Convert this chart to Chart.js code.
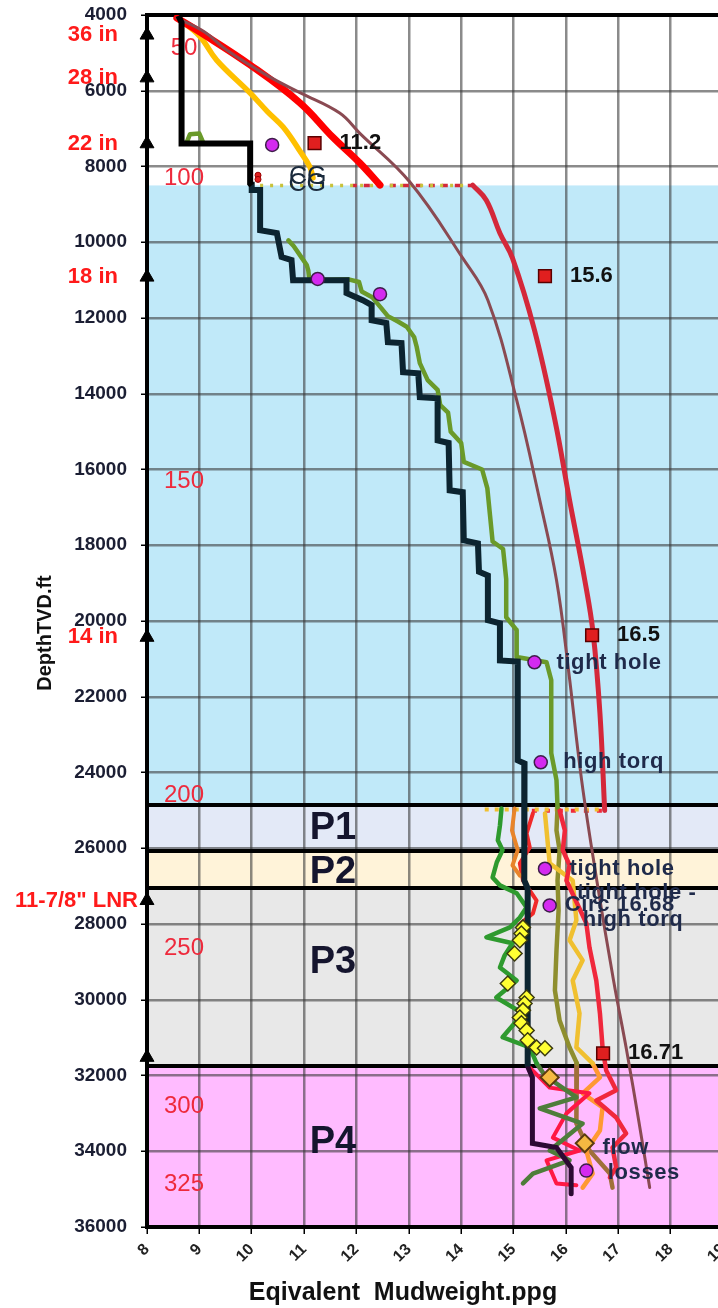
<!DOCTYPE html>
<html>
<head>
<meta charset="utf-8">
<script src="https://cdn.jsdelivr.net/npm/chart.js@4.4.1/dist/chart.umd.min.js"></script>
<style>
  html, body { margin: 0; padding: 0; background: #fff; overflow: hidden; }
  #wrap { width: 740px; height: 1308px; position: relative; }
</style>
</head>
<body>
<div id="wrap"><canvas id="c" width="740" height="1308"></canvas></div>
<script>
// ---- axis ranges / ticks ----
const xTicks = { min: 8, max: 19, step: 1 };
const yTicks = { min: 4000, max: 36000, step: 2000 };

// ---- casing shoes (depth ft) ----
const casingDepth = [4530, 5660, 7400, 10920, 20430, 27380, 31520];
const casingSize  = ['36 in', '28 in', '22 in', '18 in', '14 in', '11-7/8" LNR', ''];

// ---- formation temperature marks ----
const tempDepth = [4870, 8305, 16310, 24600, 28640, 32820, 34880];
const tempValue = ['50', '100', '150', '200', '250', '300', '325'];

// ---- depth intervals ----
const bandTop       = [8500, 24870, 26080, 27060, 31760];
const bandBottom    = [24870, 26080, 27060, 31760, 36000];
const bandName      = ['', 'P1', 'P2', 'P3', 'P4'];
const bandNameDepth = [null, 25474, 26636, 29013, 33768];

// ---- mud weight used (ppg, depth ft) ----
const mudShallow = [[8.6,4020],[8.66,4200],[8.66,7390],[9.97,7390],[9.97,8450],[10.0,8500]];
const mudDeep = [[10.0,8400],[10.0,8620],[10.16,8620],[10.16,9680],[10.48,9760],[10.57,10390],[10.76,10470],
  [10.79,11000],[11.81,11000],[11.81,11340],[12.12,11530],[12.29,11660],[12.29,12060],[12.57,12130],
  [12.6,12640],[12.86,12660],[12.89,13430],[13.18,13460],[13.21,14090],[13.55,14120],[13.55,15230],
  [13.76,15300],[13.78,16550],[14.03,16600],[14.05,17870],[14.32,17950],[14.34,18700],[14.51,18800],
  [14.51,19980],[14.74,20060],[14.74,21040],[15.08,21070],[15.08,23680],[15.21,23760],[15.21,26400],
  [15.2,26850],[15.27,27060],[15.27,31760]];
const mudP4 = [[15.27,31760],[15.36,32050],[15.36,33790],[15.82,33900],[16.1,34430],[16.1,35120]];

// ---- equivalent circulating density ----
const ecdPeek = [[8.75,7390],[8.82,7150],[9.0,7130],[9.08,7390]];
const ecd = [[10.7,9950],[10.8,10100],[10.95,10400],[11.05,10600],[11.08,10740],[11.1,11000],[11.85,10980],
  [12.05,11050],[12.1,11300],[12.3,11450],[12.45,11700],[12.6,11950],[12.8,12100],[12.96,12230],[13.1,12500],
  [13.15,12760],[13.21,13190],[13.36,13640],[13.55,13900],[13.6,14300],[13.75,14500],[13.8,15000],[14.0,15300],
  [14.05,15800],[14.4,16000],[14.5,16500],[14.55,17200],[14.6,17900],[14.8,18100],[14.86,18900],[14.86,19900],
  [15.06,20240],[15.06,20950],[15.63,21090],[15.72,21560],[15.72,23490],[15.82,24200],[15.84,24920]];

// ---- overburden, fracture and collapse gradients ----
const overburden = [[8.57,4080],[9.1,4450],[9.52,4925],[10.3,5600],[10.92,6050],[11.68,6590],[12.06,7117],
  [13.02,8410],[14.03,10420],[14.51,11530],[15.06,14170],[15.5,16810],[15.82,18920],[16.05,21300],
  [16.3,24200],[16.59,26850],[16.91,29490],[17.16,31340],[17.39,33190],[17.6,34960]];
const fracShallow = [[8.57,4080],[9.01,4450],[9.97,5320],[10.92,6320],[11.55,7230],[12.06,7900],[12.45,8490]];
const fracDeep = [[14.22,8490],[14.48,8890],[14.74,9760],[14.98,10420],[15.4,12320],[15.79,14700],[16.07,16810],
  [16.36,18920],[16.52,20320],[16.65,22440],[16.74,25000]];
const collapse = [[8.6,4100],[9.0,4550],[9.33,5190],[9.97,6060],[10.3,6550],[10.6,6960],[10.9,7550],[11.11,8010],[11.17,8300]];
const collapseShoe = [[10.16,8500],[14.16,8500]];
const fracShoe = [[11.93,8500],[14.22,8500]];
const collapseShoe2 = [[14.45,24980],[16.75,24980]];
const fracShoe2 = [[15.35,25010],[16.8,25010]];

// ---- offset well traces through P1-P4 ----
const wellGreen = [[14.77,24950],[14.74,25400],[14.70,25790],[14.79,26050],[14.68,26370],[14.60,26770],[14.74,26980],
  [15.06,27190],[15.25,27560],[15.12,27830],[14.93,28090],[14.48,28350],[14.98,28510],[14.83,28830],[14.74,29150],
  [15.06,29490],[14.67,29940],[15.18,30360],[14.79,30990],[15.31,31260],[15.44,31680]];
const wellGreenP4 = [[15.44,31680],[15.60,32000],[16.20,32580],[15.50,32870],[16.32,33270],[15.69,33980],
  [16.07,34240],[15.37,34590],[15.18,34850]];
const wellOrange = [[15.02,24950],[14.97,25530],[15.08,26050],[14.98,26450],[15.12,26720]];
const wellRedLeft = [[15.37,25080],[15.25,25610],[15.31,25980],[15.12,26400],[15.18,26850],[15.44,27380],
  [15.37,27720],[15.12,28000]];
const wellRedRight = [[15.88,25000],[15.98,25530],[15.94,26050],[16.07,26450],[16.01,26850],[16.39,27980],
  [16.45,28620],[16.58,29490],[16.65,30360],[16.70,31260],[16.77,31870],[16.96,32390],[16.58,32660],
  [16.96,33110],[17.15,33530],[16.89,33900],[16.96,34430],[16.84,34690]];
const wellGold = [[15.60,25080],[15.69,26400],[16.13,26850],[16.20,27900],[16.07,28430],[16.32,28960],
  [16.13,29490],[16.26,30360],[16.20,31260],[16.51,31680]];
const wellOrangeP4 = [[16.51,31680],[16.65,32050],[16.32,32470],[16.70,32840],[16.65,33450],[16.39,33980],
  [16.51,34590],[16.32,34960]];
const wellKhaki = [[15.84,24920],[15.82,25530],[15.88,26050],[15.84,26850],[15.86,27640],[15.82,28700],
  [15.79,29750],[15.88,30550],[16.07,31260],[16.21,31680]];
const wellBrownP4 = [[16.21,31680],[16.20,31950],[16.20,33270],[16.45,33980],[16.84,34590],[16.89,34960]];
const wellRedP4 = [[15.31,31790],[15.69,32320],[16.45,32470],[16.01,33000],[15.75,33640],[16.26,33980],
  [15.63,34240],[15.82,34850],[16.20,34900]];

// ---- point data ----
const mwPlan = [[11.2,7380],[15.6,10894],[16.5,20376],[16.71,31417]];
const events = [[10.39,7430],[11.26,10970],[12.45,11370],[15.4,21090],[15.52,23730],[15.6,26540],[15.69,27510],[16.39,34510]];
const connGas = [[15.18,28090],[15.15,28250],[15.12,28430],[15.02,28780],[14.89,29570],[15.25,29940],[15.21,30100],
  [15.18,30280],[15.12,30470],[15.15,30620],[15.25,30810],[15.27,31070],[15.44,31260],[15.6,31280]];
const flowEvents = [[15.69,32050],[16.36,33790]];
const shoeTest = [[10.12,8230],[10.12,8340]];

// ---- text notes (text, ppg, depth) ----
const notes = [
  ['tight hole', 15.82, 21115], ['high torq', 15.95, 23730], ['tight hole', 16.07, 26557],
  ['tight hole -', 16.21, 27190], ['Circ 16.68', 15.98, 27507], ['high torq', 16.32, 27904],
  ['flow', 16.70, 33900], ['losses', 16.80, 34560]
];
const curveNotes = [['CG', 10.71, 8280], ['CG', 10.70, 8465]];

// ---------------------------------------------------------------
const FONT = '"Liberation Sans", Arial, Helvetica, sans-serif';
const GRID = 'rgba(55,55,55,0.58)';
const pts = a => a.map(([x, y]) => ({ x, y }));

function trace(data, color, width, order, extra) {
  return Object.assign({
    data: pts(data), showLine: true, borderColor: color, backgroundColor: color,
    borderWidth: width, pointRadius: 0, pointHoverRadius: 0, tension: 0, order,
    borderJoinStyle: 'round', borderCapStyle: 'round'
  }, extra || {});
}
function marks(data, style, radius, fill, edge, edgeW, order, extra) {
  return Object.assign({
    data: pts(data), showLine: false, pointStyle: style, pointRadius: radius,
    pointHoverRadius: radius, backgroundColor: fill, borderColor: edge,
    pointBorderWidth: edgeW, borderWidth: edgeW, order
  }, extra || {});
}

const datasets = [
  trace(overburden, '#8a4a52', 3, 40, { tension: 0.4 }),
  trace(collapse, '#ffc000', 5.5, 42, { tension: 0.4 }),
  trace(fracShallow, '#ff0000', 7, 41, { tension: 0.4 }),
  trace(fracDeep, '#d4283a', 5, 41, { tension: 0.4 }),
  trace(collapseShoe, '#c8c23c', 3.5, 43, { borderDash: [3, 7], borderCapStyle: 'butt' }),
  trace(fracShoe, '#d4283a', 3.5, 43, { borderDash: [6, 7], borderDashOffset: 2, borderCapStyle: 'butt' }),
  trace(collapseShoe2, '#f0c030', 4, 43, { borderDash: [4, 6], borderCapStyle: 'butt' }),
  trace(fracShoe2, '#f02a3a', 4, 43, { borderDash: [5, 8], borderCapStyle: 'butt' }),

  trace(wellGreen, '#2e9a2e', 4.5, 30),
  trace(wellGreenP4, '#4e7d3a', 4.5, 30),
  trace(wellOrange, '#e8842a', 4, 31),
  trace(wellRedLeft, '#f02a2a', 4, 31),
  trace(wellRedRight, '#f0283c', 4.5, 31),
  trace(wellGold, '#f0c030', 4.5, 32),
  trace(wellOrangeP4, '#ff9933', 4.5, 32),
  trace(wellKhaki, '#8e8e2e', 4.5, 33),
  trace(wellBrownP4, '#a0703a', 4.5, 33),
  trace(wellRedP4, '#ff1744', 4, 31),

  trace(ecdPeek, '#6a9a2a', 4.5, 21),
  trace(ecd, '#6a9a2a', 4.5, 21),
  trace(mudShallow, '#000000', 6, 20, { borderJoinStyle: 'miter', borderCapStyle: 'butt' }),
  trace(mudDeep, '#0c2430', 6, 20, { borderJoinStyle: 'miter', borderCapStyle: 'butt' }),
  trace(mudP4, '#2d0a33', 5, 20, { borderJoinStyle: 'miter' }),

  marks(casingDepth.map(d => [xTicks.min, d]), 'triangle', 8, '#000', '#000', 1, 5, { clip: false }),
  marks(shoeTest, 'circle', 3, '#e02020', '#900', 1, 4),
  marks(connGas, 'rectRot', 7.5, '#ffff33', '#3a3a10', 1.5, 3),
  marks(flowEvents, 'rectRot', 9, '#f5b942', '#5a3a10', 2, 3),
  marks(events, 'circle', 6.5, '#d42af0', '#3e1e4a', 1.5, 2),
  marks(mwPlan, 'rect', 9, '#e01f1f', '#5a0000', 1.5, 1)
];

const bandColors = ['#c0e9f9', '#e3e9f7', '#fff3d9', '#e8e8e8', '#ffbbff'];

const overlay = {
  id: 'overlay',
  beforeDraw(chart) {
    const { ctx, chartArea: a, scales: { y } } = chart;
    ctx.save();
    ctx.fillStyle = '#fff';
    ctx.fillRect(0, 0, chart.width, chart.height);
    bandTop.forEach((t, i) => {
      const y0 = y.getPixelForValue(t), y1 = y.getPixelForValue(bandBottom[i]);
      ctx.fillStyle = bandColors[i];
      ctx.fillRect(a.left, y0, a.right - a.left, y1 - y0);
    });
    ctx.restore();
  },
  beforeDatasetsDraw(chart) {
    const { ctx, chartArea: a, scales: { x, y } } = chart;
    ctx.save();
    // interval boundaries
    ctx.strokeStyle = '#000';
    ctx.lineWidth = 4;
    bandTop.slice(1).forEach(t => {
      const py = Math.round(y.getPixelForValue(t));
      ctx.beginPath(); ctx.moveTo(a.left, py); ctx.lineTo(a.right, py); ctx.stroke();
    });
    ctx.beginPath(); ctx.moveTo(a.left - 2, a.top); ctx.lineTo(a.right, a.top); ctx.stroke();
    // interval names
    ctx.fillStyle = '#15152e';
    ctx.font = 'bold 38px ' + FONT;
    ctx.textAlign = 'center'; ctx.textBaseline = 'middle';
    bandName.forEach((n, i) => {
      if (!n) return;
      ctx.fillText(n, x.getPixelForValue(11.55), y.getPixelForValue(bandNameDepth[i]));
    });
    // temperatures
    ctx.font = '24px ' + FONT;
    ctx.fillStyle = '#ee2a3c';
    tempValue.forEach((t, i) => {
      ctx.fillText(t, a.left + 37, y.getPixelForValue(tempDepth[i]));
    });
    ctx.restore();
  },
  afterDatasetsDraw(chart) {
    const { ctx, scales: { x, y } } = chart;
    ctx.save();
    ctx.textBaseline = 'middle'; ctx.textAlign = 'left';
    // planned mud weights at casing points
    ctx.font = 'bold 22px ' + FONT;
    ctx.fillStyle = '#111';
    mwPlan.forEach(([v, d]) => {
      ctx.fillText(String(v), x.getPixelForValue(v) + 25, y.getPixelForValue(d));
    });
    // drilling notes
    ctx.fillStyle = '#1f2a4a';
    ctx.font = 'bold 22px ' + FONT;
    if ('letterSpacing' in ctx) ctx.letterSpacing = '0.6px';
    notes.forEach(([t, v, d]) => ctx.fillText(t, x.getPixelForValue(v), y.getPixelForValue(d)));
    if ('letterSpacing' in ctx) ctx.letterSpacing = '0px';
    ctx.font = '25px ' + FONT;
    ctx.fillStyle = '#1a2a3c';
    curveNotes.forEach(([t, v, d]) => ctx.fillText(t, x.getPixelForValue(v), y.getPixelForValue(d)));
    ctx.restore();
  },
  afterDraw(chart) {
    const { ctx, chartArea: a, scales: { y } } = chart;
    ctx.save();
    // casing sizes
    ctx.font = 'bold 22px ' + FONT;
    ctx.fillStyle = '#ff1a1a';
    ctx.textAlign = 'right'; ctx.textBaseline = 'middle';
    casingSize.forEach((s, i) => {
      if (!s) return;
      const right = s.length > 6 ? a.left - 9 : a.left - 29;
      ctx.fillText(s, right, y.getPixelForValue(casingDepth[i]));
    });
    // axis titles
    ctx.fillStyle = '#111';
    ctx.textAlign = 'center';
    ctx.font = 'bold 25px ' + FONT;
    ctx.fillText('Eqivalent  Mudweight.ppg', 403, 1293);
    ctx.translate(45, 633);
    ctx.rotate(-Math.PI / 2);
    ctx.font = 'bold 20px ' + FONT;
    ctx.fillText('DepthTVD.ft', 0, 0);
    ctx.restore();
  }
};

new Chart(document.getElementById('c'), {
  type: 'scatter',
  data: { datasets },
  options: {
    responsive: false,
    animation: false,
    events: [],
    layout: { padding: { top: 15, right: 17, left: 0, bottom: 0 } },
    plugins: { legend: { display: false }, tooltip: { enabled: false } },
    scales: {
      x: {
        type: 'linear', position: 'bottom', min: xTicks.min, max: xTicks.max,
        afterFit: s => { s.height = 81; s.paddingLeft = 0; s.paddingRight = 0; },
        grid: { color: GRID, lineWidth: 2.5, tickColor: '#000', tickLength: 7, tickWidth: 1.5 },
        border: { display: true, color: '#000', width: 4 },
        ticks: { stepSize: xTicks.step, autoSkip: false, minRotation: 45, maxRotation: 45, padding: 6,
                 color: '#222', font: { family: FONT, size: 16, weight: 'bold' } }
      },
      y: {
        type: 'linear', position: 'left', min: yTicks.min, max: yTicks.max, reverse: true,
        afterFit: s => { s.width = 147; s.paddingTop = 0; s.paddingBottom = 0; },
        grid: { color: GRID, lineWidth: 2.5, tickColor: '#000', tickLength: 6, tickWidth: 1.5 },
        border: { display: true, color: '#000', width: 4 },
        ticks: { stepSize: yTicks.step, autoSkip: false, padding: 14, color: '#1b1e33',
                 font: { family: FONT, size: 19, weight: 'bold' }, callback: v => String(v) }
      }
    }
  },
  plugins: [overlay]
});
</script>
</body>
</html>
